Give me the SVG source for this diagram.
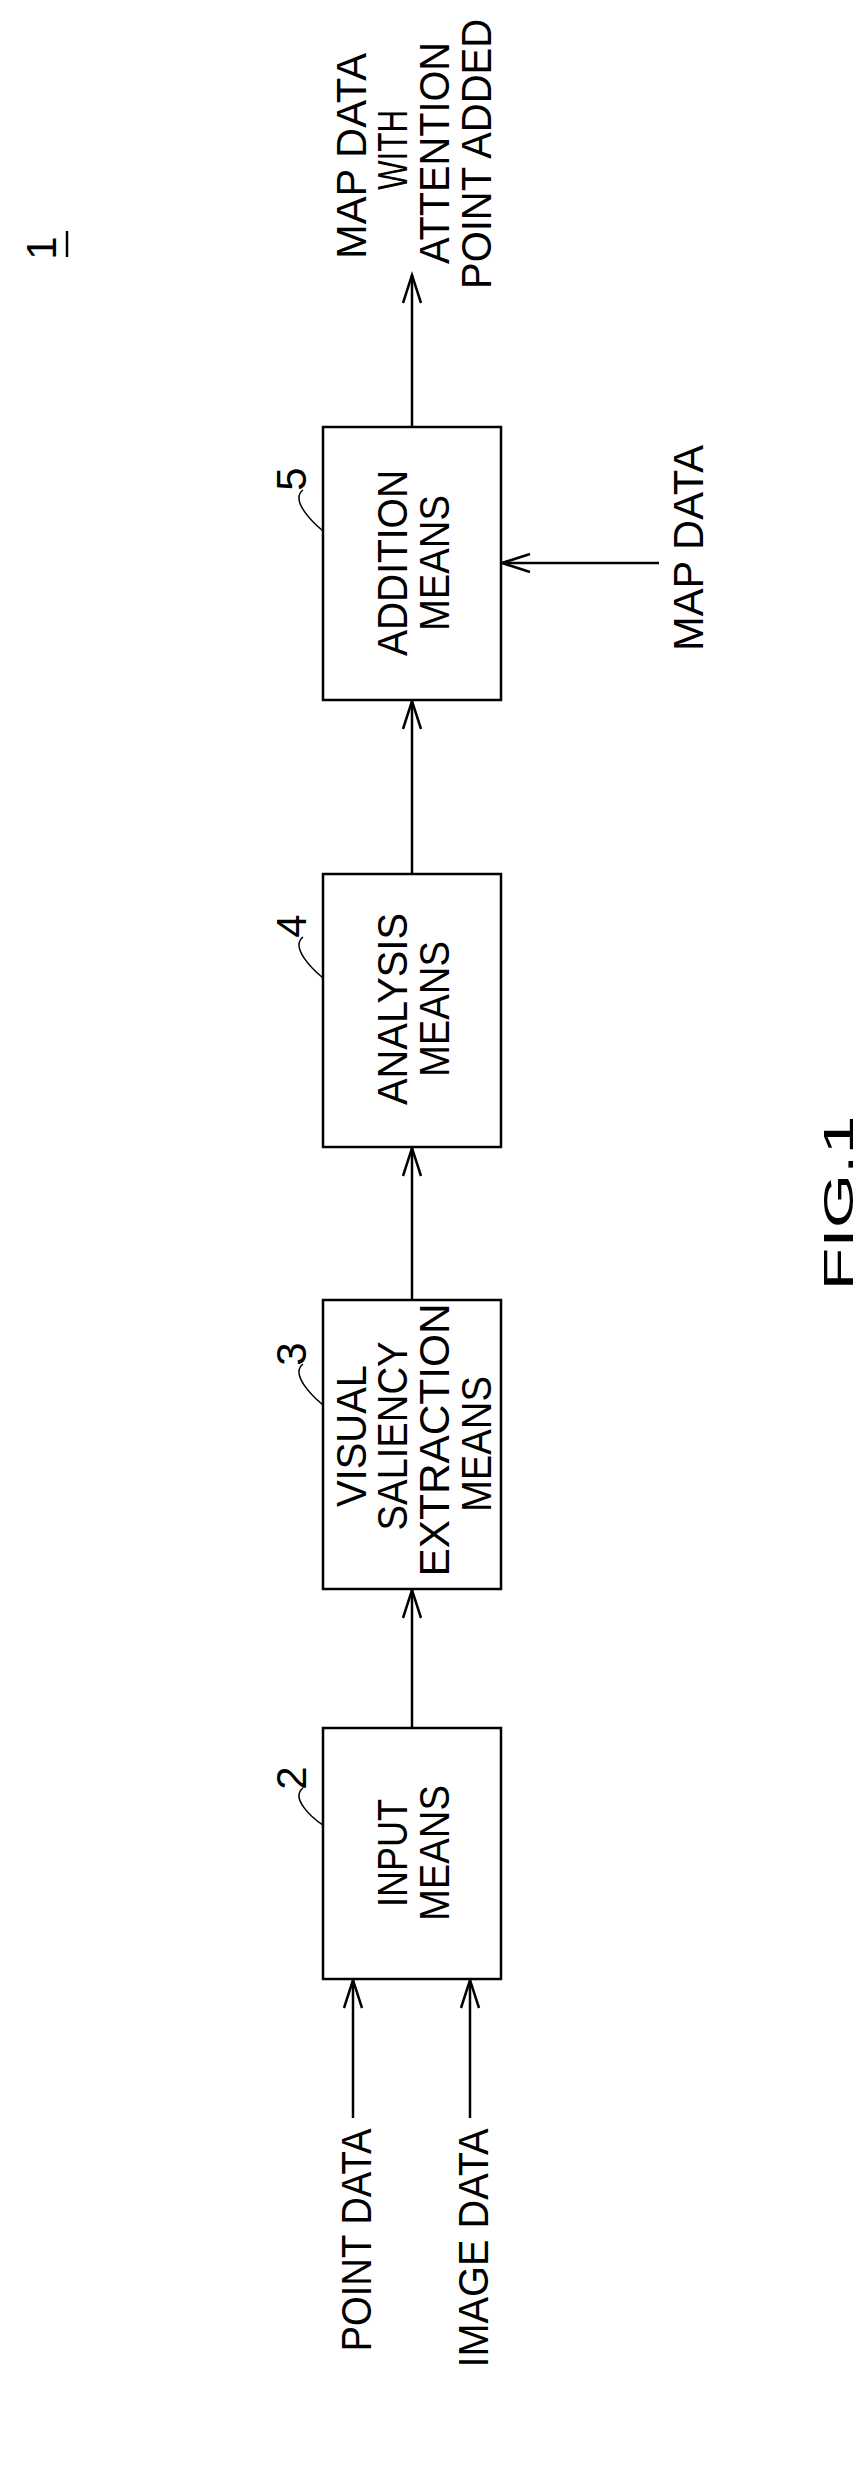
<svg xmlns="http://www.w3.org/2000/svg" width="868" height="2483" viewBox="0 0 868 2483">
<defs>
<marker id="ah" markerUnits="userSpaceOnUse" markerWidth="40" markerHeight="24" refX="30" refY="12" orient="auto" viewBox="0 0 40 24">
<path d="M2,3 L30,12 L2,21" fill="none" stroke="#000" stroke-width="2.5"/>
</marker>
</defs>
<style>
text{font-family:"Liberation Sans",Arial,sans-serif;font-size:42px;fill:#000;text-anchor:middle}
.box{fill:#fff;stroke:#000;stroke-width:2.5}
.ln{fill:none;stroke:#000;stroke-width:2.5}
.ld{fill:none;stroke:#000;stroke-width:1.5}
</style>
<rect width="868" height="2483" fill="#fff"/>
<g id="connectors">
<line class="ln" x1="412" y1="1728" x2="412" y2="1590" marker-end="url(#ah)"/>
<line class="ln" x1="412" y1="1300" x2="412" y2="1148" marker-end="url(#ah)"/>
<line class="ln" x1="412" y1="874" x2="412" y2="701" marker-end="url(#ah)"/>
<line class="ln" x1="412" y1="427" x2="412" y2="275" marker-end="url(#ah)"/>
<line class="ln" x1="659" y1="563" x2="502" y2="563" marker-end="url(#ah)"/>
<line class="ln" x1="353" y1="2118" x2="353" y2="1980" marker-end="url(#ah)"/>
<line class="ln" x1="470" y1="2118" x2="470" y2="1980" marker-end="url(#ah)"/>
</g>
<g id="ref1">
<text transform="translate(56,248) rotate(-90)" font-size="40">1</text>
<line class="ln" x1="67" y1="231" x2="67" y2="257"/>
</g>
<g id="output-label">
<text transform="translate(366,156) rotate(-90)" textLength="206" lengthAdjust="spacingAndGlyphs">MAP DATA</text>
<text transform="translate(407,150) rotate(-90)" textLength="80" lengthAdjust="spacingAndGlyphs">WITH</text>
<text transform="translate(449,153) rotate(-90)" textLength="222" lengthAdjust="spacingAndGlyphs">ATTENTION</text>
<text transform="translate(491,154) rotate(-90)" textLength="270" lengthAdjust="spacingAndGlyphs">POINT ADDED</text>
</g>
<g id="mapdata-label">
<text transform="translate(703,548) rotate(-90)" textLength="206" lengthAdjust="spacingAndGlyphs">MAP DATA</text>
</g>
<g id="node5">
<rect class="box" x="323" y="427" width="178" height="273"/>
<text transform="translate(407,563) rotate(-90)" textLength="186" lengthAdjust="spacingAndGlyphs">ADDITION</text>
<text transform="translate(449,563) rotate(-90)" textLength="136" lengthAdjust="spacingAndGlyphs">MEANS</text>
<text transform="translate(306,479) rotate(-90)" font-size="40">5</text>
<path class="ld" d="M303,490 C290,500 312,522 323,531"/>
</g>
<g id="node4">
<rect class="box" x="323" y="874" width="178" height="273"/>
<text transform="translate(407,1009) rotate(-90)" textLength="192" lengthAdjust="spacingAndGlyphs">ANALYSIS</text>
<text transform="translate(449,1009) rotate(-90)" textLength="136" lengthAdjust="spacingAndGlyphs">MEANS</text>
<text transform="translate(306,926) rotate(-90)" font-size="40">4</text>
<path class="ld" d="M303,937 C290,947 312,969 323,978"/>
</g>
<g id="node3">
<rect class="box" x="323" y="1300" width="178" height="289"/>
<text transform="translate(366,1436) rotate(-90)" textLength="142" lengthAdjust="spacingAndGlyphs">VISUAL</text>
<text transform="translate(407,1436) rotate(-90)" textLength="189" lengthAdjust="spacingAndGlyphs">SALIENCY</text>
<text transform="translate(449,1440) rotate(-90)" textLength="273" lengthAdjust="spacingAndGlyphs">EXTRACTION</text>
<text transform="translate(491,1444) rotate(-90)" textLength="136" lengthAdjust="spacingAndGlyphs">MEANS</text>
<text transform="translate(306,1354) rotate(-90)" font-size="40">3</text>
<path class="ld" d="M303,1364 C290,1374 312,1396 323,1405"/>
</g>
<g id="node2">
<rect class="box" x="323" y="1728" width="178" height="251"/>
<text transform="translate(407,1853) rotate(-90)" textLength="108" lengthAdjust="spacingAndGlyphs">INPUT</text>
<text transform="translate(449,1853) rotate(-90)" textLength="136" lengthAdjust="spacingAndGlyphs">MEANS</text>
<text transform="translate(306,1778) rotate(-90)" font-size="40">2</text>
<path class="ld" d="M303,1788 C290,1798 312,1818 323,1825"/>
</g>
<g id="input-labels">
<text transform="translate(371,2240) rotate(-90)" textLength="223" lengthAdjust="spacingAndGlyphs">POINT DATA</text>
<text transform="translate(488,2248) rotate(-90)" textLength="239" lengthAdjust="spacingAndGlyphs">IMAGE DATA</text>
</g>
<g id="caption">
<text transform="translate(853,1203) rotate(-90)" font-size="88" textLength="175" lengthAdjust="spacingAndGlyphs">FIG.1</text>
</g>
</svg>
